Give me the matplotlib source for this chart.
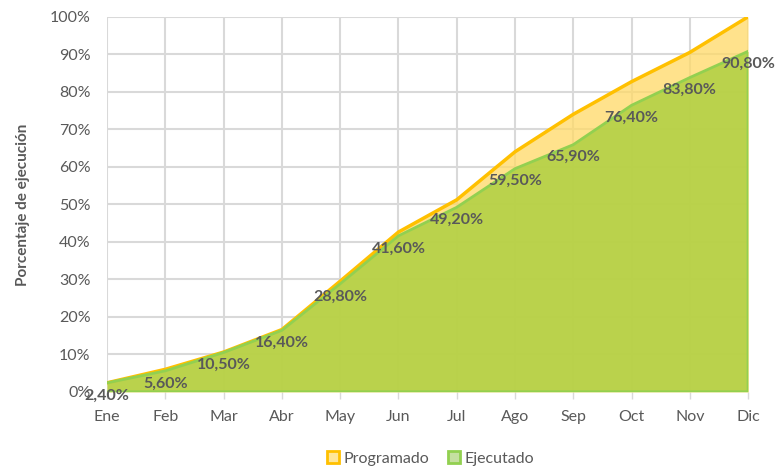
import matplotlib.pyplot as plt
from matplotlib.patches import Rectangle

plt.rcParams['font.family'] = ['Lato', 'DejaVu Sans']

meses = ['Ene', 'Feb', 'Mar', 'Abr', 'May', 'Jun', 'Jul', 'Ago', 'Sep', 'Oct', 'Nov', 'Dic']
programado = [2.4, 6.0, 10.6, 16.6, 29.5, 42.6, 51.2, 64.0, 74.0, 82.7, 90.5, 100.0]
ejecutado = [2.4, 5.6, 10.5, 16.4, 28.8, 41.6, 49.2, 59.5, 65.9, 76.4, 83.8, 90.8]
etiquetas = ['2,40%', '5,60%', '10,50%', '16,40%', '28,80%', '41,60%',
             '49,20%', '59,50%', '65,90%', '76,40%', '83,80%', '90,80%']
yticks = [0, 10, 20, 30, 40, 50, 60, 70, 80, 90, 100]

txt = '#595959'
fig = plt.figure(figsize=(7.76, 4.67), dpi=100)
ax = fig.add_axes([0.138, 0.161, 0.826, 0.803])

x = list(range(len(meses)))
ax.fill_between(x, 0, programado, color='#FFD966', alpha=0.75, lw=0, zorder=2)
ax.plot(x, programado, color='#FFC000', lw=2.5, zorder=3)
ax.fill_between(x, 0, ejecutado, color='#B1D044', alpha=0.88, lw=0, zorder=4)
ax.plot(x + [x[-1], x[0]], ejecutado + [0, 0], color='#92D050', lw=2, zorder=5,
        solid_joinstyle='miter')

for xi, yi, lab in zip(x, ejecutado, etiquetas):
    ax.annotate(lab, (xi, yi), xytext=(0, -9), textcoords='offset points',
                ha='center', va='center', fontsize=11.5, fontweight='bold',
                color=txt, zorder=6)

ax.set_xlim(0, len(meses) - 1)
ax.set_ylim(0, 100)
ax.set_xticks(x)
ax.set_xticklabels(meses)
ax.set_yticks(yticks)
ax.set_yticklabels([f'{v}%' for v in yticks])
ax.grid(True, color='#D9D9D9', lw=1.5, zorder=0)
ax.set_axisbelow(True)
for s in ax.spines.values():
    s.set_visible(False)
ax.tick_params(axis='y', length=0, pad=12, labelsize=11.5, labelcolor=txt)
ax.tick_params(axis='x', length=5, width=1, color='#D9D9D9', pad=8,
               labelsize=11.5, labelcolor=txt)
ax.set_ylabel('Porcentaje de ejecución', fontsize=11, fontweight='bold',
              color=txt, labelpad=14)

handles = [Rectangle((0, 0), 1, 1, facecolor='#FFE699', edgecolor='#FFC000', lw=2),
           Rectangle((0, 0), 1, 1, facecolor='#C5E0A0', edgecolor='#92D050', lw=2)]
leg = fig.legend(handles, ['Programado', 'Ejecutado'], loc='center',
                 bbox_to_anchor=(0.555, 0.018), ncol=2, frameon=False,
                 fontsize=11.5, handlelength=0.75, handleheight=0.75,
                 handletextpad=0.25, columnspacing=1.2, labelcolor=txt)

fig.savefig('out.png', dpi=100)
